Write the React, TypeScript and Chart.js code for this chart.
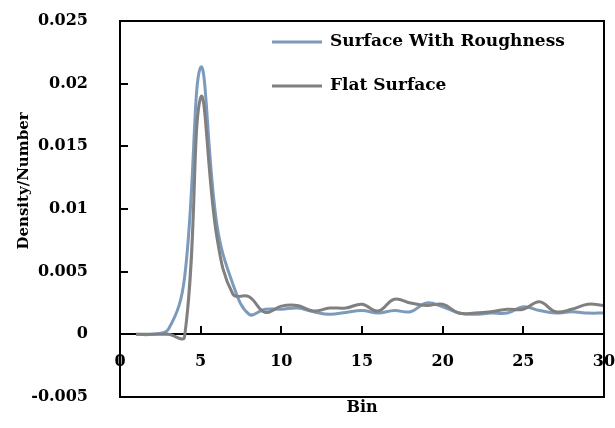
import React, { useEffect, useRef } from "react";
import { Chart, registerables } from "chart.js";

Chart.register(...registerables);

// ---- data ----
const bins = [1, 2, 3, 4, 5, 6, 7, 8, 9, 10, 11, 12, 13, 14, 15, 16, 17, 18, 19, 20, 21, 22, 23, 24, 25, 26, 27, 28, 29, 30];
const roughness = [0, 0, 0.0004, 0.0045, 0.0213, 0.0088, 0.004, 0.0016, 0.002, 0.002, 0.0021, 0.0018, 0.0016, 0.00175, 0.0019, 0.0017, 0.0019, 0.0018, 0.0025, 0.0022, 0.0017, 0.0016, 0.0017, 0.0017, 0.0022, 0.0019, 0.0017, 0.0018, 0.0017, 0.0017];
const flat = [0, 0, 0, -0.0002, 0.0189, 0.0078, 0.0032, 0.003, 0.00175, 0.00225, 0.0023, 0.00186, 0.0021, 0.0021, 0.0024, 0.00186, 0.0028, 0.0025, 0.0023, 0.0024, 0.0017, 0.0017, 0.0018, 0.002, 0.002, 0.0026, 0.0018, 0.002, 0.0024, 0.0023];
const seriesNames = ["Surface With Roughness", "Flat Surface"];
const xTickValues = [0, 5, 10, 15, 20, 25, 30];
const yTickValues = [-0.005, 0, 0.005, 0.01, 0.015, 0.02, 0.025];
const xTitle = "Bin";
const yTitle = "Density/Number";

const BLUE = "rgb(124,154,187)";
const GRAY = "rgb(128,128,128)";
const FONT_FAMILY = "'DejaVu Serif', serif";
const FONT_SIZE = 16;

const fmt = (v: number) => String(Number(v.toFixed(4)));

const framePlugin = {
  id: "frameAndText",
  afterDraw(chart: any) {
    const { ctx, chartArea } = chart;
    const { left, right, top, bottom } = chartArea;
    const xs = chart.scales.x;
    const ys = chart.scales.y;
    ctx.save();
    // frame
    ctx.strokeStyle = "#000";
    ctx.lineWidth = 2;
    ctx.strokeRect(left, top, right - left, bottom - top);
    // y tick marks (inside)
    ctx.beginPath();
    for (const v of yTickValues) {
      const py = Math.round(ys.getPixelForValue(v));
      ctx.moveTo(left, py);
      ctx.lineTo(left + 8, py);
    }
    // x tick marks on zero line (upwards)
    const y0 = Math.round(ys.getPixelForValue(0));
    for (const v of xTickValues) {
      const px = Math.round(xs.getPixelForValue(v));
      ctx.moveTo(px, y0);
      ctx.lineTo(px, y0 - 8);
    }
    ctx.stroke();

    ctx.fillStyle = "#000";
    ctx.textBaseline = "middle";
    // x title
    ctx.font = `bold 16px ${FONT_FAMILY}`;
    ctx.textAlign = "center";
    ctx.fillText(xTitle, (left + right) / 2, bottom + 11);
    // y title
    ctx.save();
    ctx.font = `bold 15px ${FONT_FAMILY}`;
    ctx.translate(24, 181);
    ctx.rotate(-Math.PI / 2);
    ctx.fillText(yTitle, 0, 0);
    ctx.restore();
    // legend
    ctx.font = `bold 17px ${FONT_FAMILY}`;
    const colors = [BLUE, GRAY];
    seriesNames.forEach((name, i) => {
      const ly = top + 21 + i * 44;
      ctx.strokeStyle = colors[i];
      ctx.lineWidth = 3;
      ctx.beginPath();
      ctx.moveTo(left + 152, ly);
      ctx.lineTo(left + 202, ly);
      ctx.stroke();
      ctx.textAlign = "left";
      ctx.fillStyle = "#000";
      ctx.fillText(name, left + 210, ly);
    });
    ctx.restore();
  },
};

export default function App() {
  const ref = useRef<HTMLCanvasElement>(null);
  useEffect(() => {
    if (!ref.current) return;
    const chart = new Chart(ref.current, {
      type: "line",
      data: {
        labels: bins,
        datasets: [
          {
            label: seriesNames[0],
            data: bins.map((b, i) => ({ x: b, y: roughness[i] })),
            borderColor: BLUE,
            borderWidth: 3,
            pointRadius: 0,
            tension: 0.4,
            fill: false,
            order: 1,
          },
          {
            label: seriesNames[1],
            data: bins.map((b, i) => ({ x: b, y: flat[i] })),
            borderColor: GRAY,
            borderWidth: 3,
            pointRadius: 0,
            tension: 0.4,
            fill: false,
            order: 0,
          },
        ],
      },
      options: {
        animation: false,
        responsive: false,
        maintainAspectRatio: false,
        layout: { padding: { left: 0, top: 21, right: 11, bottom: 31 } },
        plugins: { legend: { display: false }, tooltip: { enabled: false } },
        scales: {
          x: {
            type: "linear",
            min: 0,
            max: 30,
            position: { y: 0 } as any,
            afterBuildTicks: (s: any) => {
              s.ticks = xTickValues.map((v) => ({ value: v }));
            },
            afterFit: (s: any) => {
              s.paddingLeft = 0;
              s.paddingRight = 0;
              s.paddingTop = 0;
              s.paddingBottom = 0;
            },
            grid: { display: false, drawTicks: false },
            border: { display: true, color: "#000", width: 2 },
            ticks: {
              padding: 18,
              color: "#000",
              font: { family: FONT_FAMILY, size: FONT_SIZE, weight: "bold" },
              maxRotation: 0,
              autoSkip: false,
              callback: (v: any) => fmt(Number(v)),
            },
          },
          y: {
            type: "linear",
            min: -0.005,
            max: 0.025,
            afterBuildTicks: (s: any) => {
              s.ticks = yTickValues.map((v) => ({ value: v }));
            },
            afterFit: (s: any) => {
              s.width = 120;
              s.paddingTop = 0;
              s.paddingBottom = 0;
              s.paddingLeft = 0;
              s.paddingRight = 0;
            },
            grid: { display: false, drawTicks: false },
            border: { display: false },
            ticks: {
              padding: 32,
              color: "#000",
              font: { family: FONT_FAMILY, size: FONT_SIZE, weight: "bold" },
              autoSkip: false,
              callback: (v: any) => fmt(Number(v)),
            },
          },
        },
      },
      plugins: [framePlugin],
    });
    return () => chart.destroy();
  }, []);
  return (
    <div style={{ position: "fixed", left: 0, top: 0, width: 615, height: 428, background: "#fff" }}>
      <canvas ref={ref} width={615} height={428} style={{ display: "block" }} />
    </div>
  );
}
